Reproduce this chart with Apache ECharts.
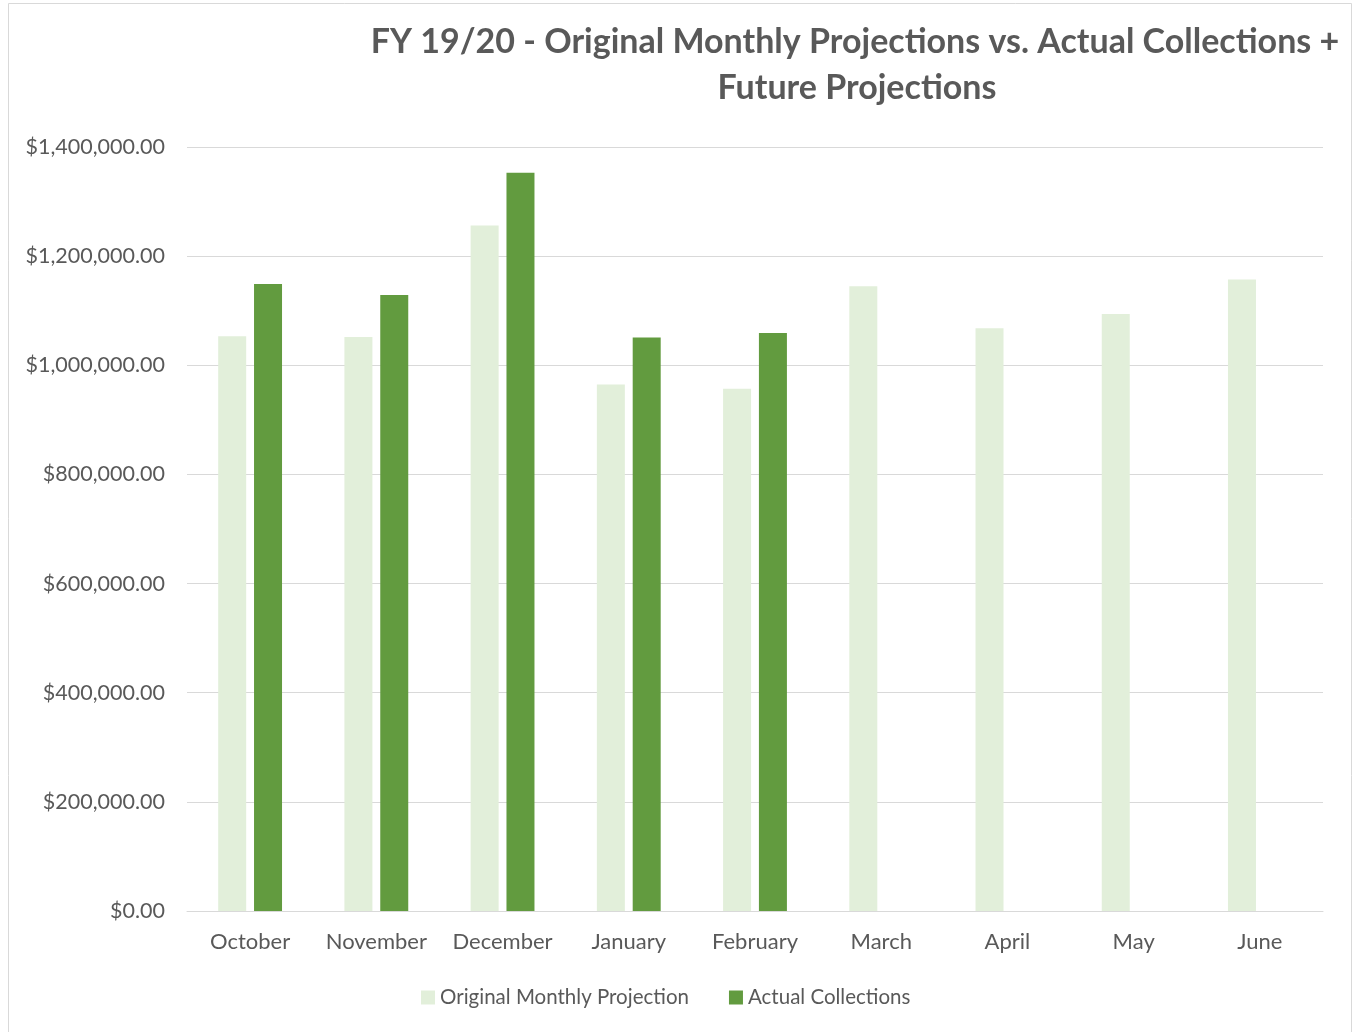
<!DOCTYPE html>
<html>
<head>
<meta charset="utf-8">
<script src="https://cdn.jsdelivr.net/npm/echarts@6/dist/echarts.min.js"></script>
<style>
html,body{margin:0;padding:0;background:#fff;}
#chart{width:1354px;height:1032px;}
</style>
</head>
<body>
<div id="chart"></div>
<script>
const titleLines = ['FY 19/20 - Original Monthly Projections vs. Actual Collections +', 'Future Projections'];
const months = ['October','November','December','January','February','March','April','May','June'];
const seriesNames = ['Original Monthly Projection','Actual Collections'];
const projection = [1053000, 1052000, 1256000, 965000, 957000, 1145000, 1068000, 1094000, 1157000];
const actual = [1149000, 1129000, 1353000, 1051000, 1059000, null, null, null, null];
const yTicks = {min: 0, max: 1400000, interval: 200000};

const FONT = 'Lato';
const TXT = '#595959';
const chart = echarts.init(document.getElementById('chart'), null, {renderer: 'canvas'});
chart.setOption({
  backgroundColor: '#ffffff',
  animation: false,
  textStyle: {fontFamily: FONT, color: TXT},
  graphic: [
    {type: 'rect', shape: {x: 8.5, y: 3.5, width: 1343, height: 1060}, style: {fill: 'none', stroke: '#D9D9D9', lineWidth: 1}, z: -1},
    {type: 'text', x: 855, y: 42, style: {text: titleLines[0], font: 'bold 34px ' + FONT, fill: TXT, textAlign: 'center', textVerticalAlign: 'middle'}},
    {type: 'text', x: 857, y: 88, style: {text: titleLines[1], font: 'bold 34px ' + FONT, fill: TXT, textAlign: 'center', textVerticalAlign: 'middle'}}
  ],
  legend: {
    data: seriesNames,
    left: 421, top: 987, padding: 0,
    itemWidth: 14, itemHeight: 14, itemGap: 40,
    icon: 'rect',
    textStyle: {fontFamily: FONT, fontSize: 20.5, color: TXT}
  },
  grid: {left: 187, right: 31, top: 147, bottom: 121, containLabel: false},
  xAxis: {
    type: 'category', data: months,
    axisTick: {show: false},
    axisLine: {lineStyle: {color: '#D9D9D9', width: 1}},
    axisLabel: {fontFamily: FONT, fontSize: 22, color: TXT, margin: 20, interval: 0}
  },
  yAxis: {
    type: 'value', min: yTicks.min, max: yTicks.max, interval: yTicks.interval,
    axisLine: {show: false}, axisTick: {show: false},
    splitLine: {lineStyle: {color: '#D9D9D9', width: 1}},
    axisLabel: {fontFamily: FONT, fontSize: 21.5, color: TXT, margin: 22,
      formatter: v => '$' + v.toLocaleString('en-US', {minimumFractionDigits: 2, maximumFractionDigits: 2})}
  },
  series: [
    {name: seriesNames[0], type: 'bar', data: projection, barWidth: 28, barGap: '28%', itemStyle: {color: '#E2EFDA'}},
    {name: seriesNames[1], type: 'bar', data: actual, barWidth: 28, itemStyle: {color: '#629B3F'}}
  ]
});
</script>
</body>
</html>
